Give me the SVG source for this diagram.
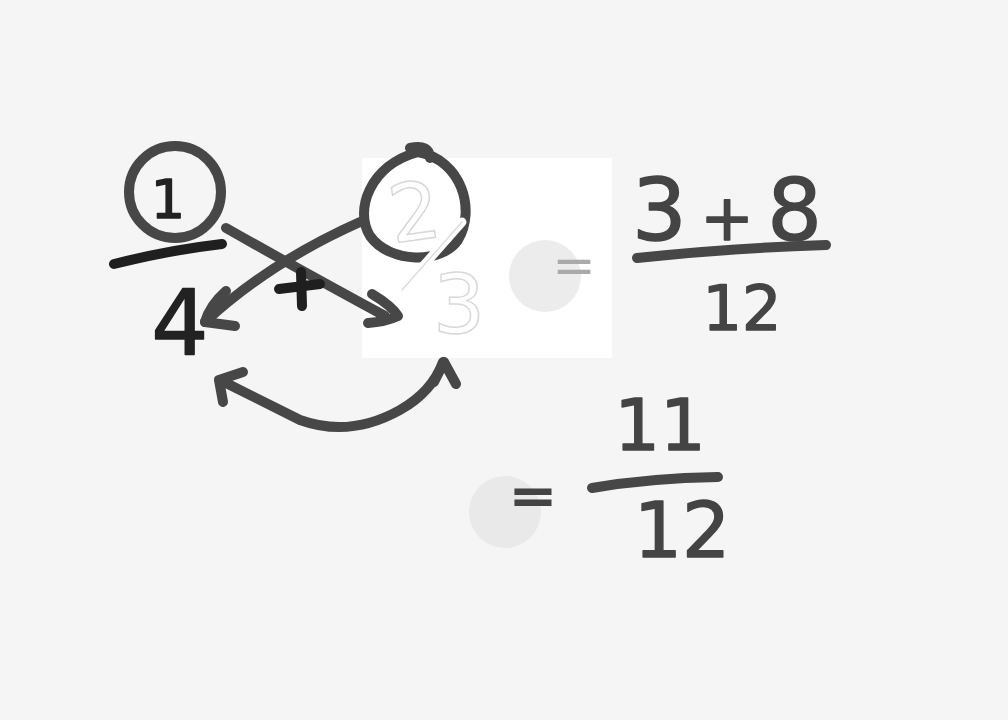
<svg xmlns="http://www.w3.org/2000/svg" width="1008" height="720" viewBox="0 0 1008 720">
<style>
.ink{fill:none;stroke:#474747;stroke-width:10;stroke-linecap:round;stroke-linejoin:round}
.dark{fill:none;stroke:#1f1f1f;stroke-width:10;stroke-linecap:round;stroke-linejoin:round}
.num{font-family:"DejaVu Sans",sans-serif;fill:#222;stroke:#222;stroke-width:1.5;stroke-linejoin:round;text-anchor:middle}
.num2{font-family:"DejaVu Sans",sans-serif;fill:#444;stroke:#444;stroke-width:1.5;stroke-linejoin:round;text-anchor:middle}
.ghost{font-family:"DejaVu Sans",sans-serif;fill:#ffffff;stroke:#d8d8d8;stroke-width:1.5;text-anchor:middle}
</style>
<rect width="1008" height="720" fill="#f5f5f5"/>
<rect x="362" y="158" width="250" height="200" fill="#ffffff"/>
<circle cx="545" cy="276" r="36" fill="#ececec"/>
<circle cx="505" cy="512" r="36" fill="#e9e9e9"/>

<g id="fraction-left">
  <ellipse class="ink" cx="175" cy="192" rx="46" ry="46"/>
  <text class="num" x="168" y="218" font-size="54">1</text>
  <path class="dark" d="M114,264 Q170,250 222,244"/>
  <text class="num" x="180" y="355" font-size="90">4</text>
</g>

<g id="fraction-right">
  <path class="ink" d="M410,148 Q430,144 430,158 M418,152 C462,160 476,210 458,240 C442,264 390,264 370,236 C354,210 370,165 418,152"/>
  <text class="ghost" x="414" y="240" font-size="80" transform="rotate(-8 414 210)">2</text>
  <path d="M462,222 L402,290" fill="none" stroke="#ffffff" stroke-width="9" stroke-linecap="round"/>
  <path d="M462,222 L402,290" fill="none" stroke="#cfcfcf" stroke-width="1.2" stroke-linecap="round" opacity="0.8"/>
  <text class="ghost" x="459" y="333" font-size="82">3</text>
</g>

<g id="connectors">
  <path class="ink" d="M226,228 Q300,270 385,316"/>
  <path class="ink" d="M372,294 Q392,306 398,316 Q385,322 368,323"/>
  <path class="ink" d="M360,222 Q270,262 205,322"/>
  <path class="ink" d="M226,291 Q210,305 205,322 L235,326"/>
  <path class="ink" d="M220,380 Q260,400 300,420 Q350,438 400,410 Q432,392 443,362"/>
  <path class="ink" d="M243,372 L219,380 L223,402"/>
  <path class="ink" d="M434,382 L444,362 L456,384"/>
</g>

<g id="plus-sign">
  <path class="dark" d="M279,289 L320,284 M301,272 L302,306"/>
</g>

<g id="equals-1">
  <text x="574" y="283" font-family="DejaVu Sans,sans-serif" font-size="52" fill="#aaaaaa" text-anchor="middle">=</text>
</g>

<g id="sum-fraction">
  <text class="num2" font-size="86" x="632" y="240" text-anchor="start" style="text-anchor:start" textLength="190" lengthAdjust="spacing">3<tspan font-size="64"> + </tspan>8</text>
  <path class="ink" d="M637,258 Q730,248 826,245"/>
  <text class="num2" x="742" y="330" font-size="62">12</text>
</g>

<g id="equals-2">
  <text x="533" y="515" font-family="DejaVu Sans,sans-serif" font-size="56" fill="#444" stroke="#444" stroke-width="2" text-anchor="middle">=</text>
</g>

<g id="result-fraction">
  <text class="num2" x="660" y="450" font-size="72">11</text>
  <path class="ink" d="M592,488 Q650,478 718,477"/>
  <text class="num2" x="682" y="557" font-size="76">12</text>
</g>
</svg>
